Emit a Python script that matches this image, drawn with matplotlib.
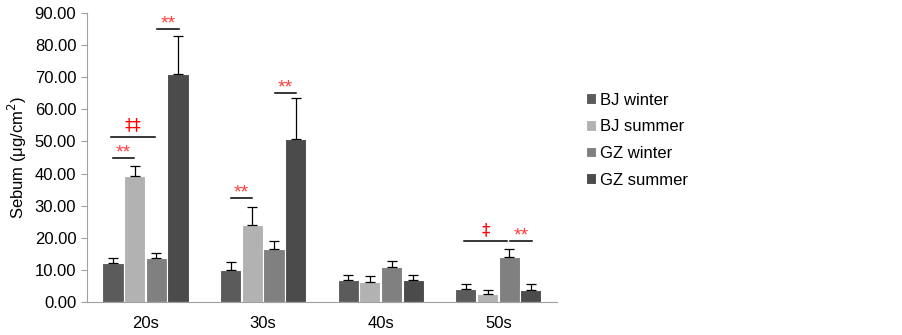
import matplotlib.pyplot as plt
import numpy as np

plt.rcParams["font.family"] = ["Liberation Sans", "DejaVu Sans"]

groups = ["20s", "30s", "40s", "50s"]
series = ["BJ winter", "BJ summer", "GZ winter", "GZ summer"]
colors = ["#5b5b5b", "#b2b2b2", "#808080", "#4b4b4b"]

bj_winter = [12.2, 10.0, 7.0, 4.2]
bj_summer = [39.2, 24.1, 6.4, 2.4]
gz_winter = [13.7, 16.5, 10.9, 14.0]
gz_summer = [70.8, 50.8, 6.8, 3.9]

bj_winter_err = [1.5, 2.5, 1.5, 1.4]
bj_summer_err = [3.2, 5.5, 1.6, 1.3]
gz_winter_err = [1.5, 2.6, 1.9, 2.4]
gz_summer_err = [12.0, 12.8, 1.8, 1.6]

values = [bj_winter, bj_summer, gz_winter, gz_summer]
errors = [bj_winter_err, bj_summer_err, gz_winter_err, gz_summer_err]

# significance marks: (group, from bar index, to bar index, height, label)
sig_marks = [
    (0, 0.0, 0.95, 44.7, "**"),
    (0, -0.1, 1.95, 51.5, "‡‡"),
    (0, 2.05, 3.05, 85.0, "**"),
    (1, 0.0, 1.0, 32.3, "**"),
    (1, 2.05, 3.0, 65.0, "**"),
    (3, -0.1, 1.9, 18.9, "‡"),
    (3, 2.05, 3.05, 18.9, "**"),
]

fig = plt.figure(figsize=(9.03, 3.35), dpi=100)
ax = fig.add_axes([0.096, 0.098, 0.521, 0.864])

x = np.arange(len(groups))
step = 0.184
width = 0.18
offsets = (np.arange(4) - 1.5) * step

for i, name in enumerate(series):
    ax.bar(x + offsets[i], values[i], width, color=colors[i], label=name,
           edgecolor="white", linewidth=0.8, zorder=2)
    ax.errorbar(x + offsets[i], values[i], yerr=[np.zeros(4), errors[i]],
                fmt="none", ecolor="black", elinewidth=0.9, capsize=3.5,
                capthick=0.9, zorder=3)

for g, b0, b1, h, lab in sig_marks:
    x0 = g + offsets[0] + b0 * step
    x1 = g + offsets[0] + b1 * step
    ax.plot([x0, x1], [h, h], color="black", lw=1.1, zorder=4)
    if "‡" in lab:
        ax.text((x0 + x1) / 2, h + 0.8, lab, color="red", ha="center",
                va="bottom", fontsize=12, family="DejaVu Sans")
    else:
        ax.text((x0 + x1) / 2, h - 1.0, lab, color="#ff4040", ha="center",
                va="bottom", fontsize=14)

ax.set_xlim(-0.5, 3.5)
ax.set_ylim(0, 90)
ax.set_yticks(np.arange(0, 91, 10))
ax.set_yticklabels(["%.2f" % v for v in np.arange(0, 91, 10)], fontsize=12)
ax.set_xticks(x)
ax.set_xticklabels(groups, fontsize=12)
ax.tick_params(axis="x", length=0, pad=10)
ax.tick_params(axis="y", length=4, color="#a0a0a0")
ax.set_ylabel("Sebum (μg/cm$^2$)", fontsize=12)
for side in ["top", "right"]:
    ax.spines[side].set_visible(False)
ax.spines["left"].set_color("#a0a0a0")
ax.spines["bottom"].set_color("#a0a0a0")

ax.legend(loc="center left", bbox_to_anchor=(1.03, 0.56), frameon=False,
          fontsize=12, handlelength=0.6, handleheight=0.6, handletextpad=0.2,
          labelspacing=0.7)

fig.savefig("out.png", dpi=100)
